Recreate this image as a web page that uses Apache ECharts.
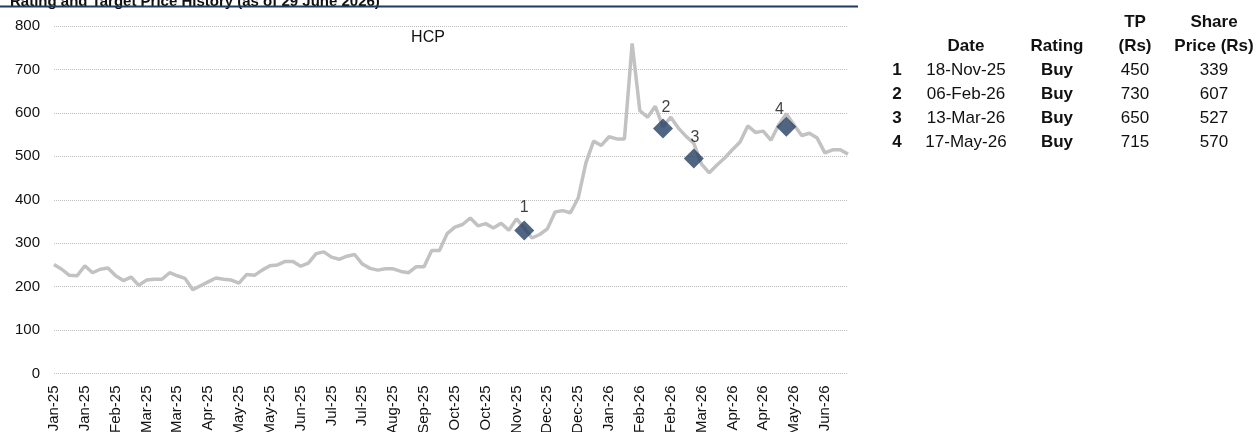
<!DOCTYPE html>
<html><head><meta charset="utf-8">
<script src="https://cdn.jsdelivr.net/npm/echarts@6/dist/echarts.min.js"></script>
<style>html,body{margin:0;padding:0;background:#fff}#c{width:1258px;height:432px}</style>
</head><body><div id="c"></div>
<script>
const tickLabels = ['Jan-25','Jan-25','Feb-25','Mar-25','Mar-25','Apr-25','May-25','May-25','Jun-25','Jul-25','Jul-25','Aug-25','Sep-25','Oct-25','Oct-25','Nov-25','Dec-25','Dec-25','Jan-26','Feb-26','Feb-26','Mar-26','Apr-26','Apr-26','May-26','Jun-26'];
const pointsPerTick = 4;
const prices = [
  251,240,226,225,248,232,240,243,225,214,
  222,203,215,217,217,232,225,219,193,202,
  211,220,217,215,208,228,226,238,248,250,
  258,258,247,254,276,280,268,263,270,274,
  252,242,238,241,241,235,232,246,246,283,
  283,322,337,343,358,340,345,335,346,330,
  356,335,312,320,333,372,375,370,404,485,
  535,525,545,540,540,760,605,590,615,568,
  590,565,546,530,482,462,480,496,515,533,
  570,555,558,537,572,598,572,548,553,542,
  508,515,515,505
];
const seriesName = 'HCP';
const markerIdx = [61,79,83,95];
const markerVals = [329,564,495,568];
const markerNames = ['1','2','3','4'];
const titleText = 'Rating and Target Price History (as of 29 June 2026)';
const tableHeader1 = ['', '', '', 'TP', 'Share'];
const tableHeader2 = ['', 'Date', 'Rating', '(Rs)', 'Price (Rs)'];
const tableNo = ['1','2','3','4'];
const tableDates = ['18-Nov-25','06-Feb-26','13-Mar-26','17-May-26'];
const tableRatings = ['Buy','Buy','Buy','Buy'];
const tableTP = ['450','730','650','715'];
const tableShare = ['339','607','527','570'];

const FONT = '"Liberation Sans",Arial,sans-serif';
const categories = prices.map((v,i)=>tickLabels[Math.floor(i/pointsPerTick)]);

const colX = [897, 966, 1057, 1135, 1214];
const rowY = [22, 46, 70, 94, 118, 142];
const boldCols = [true, false, true, false, false];
const graphics = [];
function txt(s, x, y, bold, size, align){
  graphics.push({type:'text', style:{text:s, x:x, y:y, fill:'#111',
    font:(bold?'bold ':'')+size+'px '+FONT, align:align||'center', textAlign:align||'center',
    verticalAlign:'middle', textVerticalAlign:'middle'}});
}
tableHeader1.forEach((s,c)=>{ if(s) txt(s, colX[c], rowY[0], true, 17); });
tableHeader2.forEach((s,c)=>{ if(s) txt(s, colX[c], rowY[1], true, 17); });
tableNo.forEach((n,r)=>{
  const cells=[n, tableDates[r], tableRatings[r], tableTP[r], tableShare[r]];
  cells.forEach((s,c)=>txt(s, colX[c], rowY[2+r], boldCols[c], 17));
});
graphics.push({type:'text', style:{text:titleText, x:10, y:9, fill:'#111',
  font:'bold 15px '+FONT, align:'left', textAlign:'left', verticalAlign:'bottom', textVerticalAlign:'bottom'}});
graphics.push({type:'line', shape:{x1:0,y1:6.5,x2:858,y2:6.5}, style:{stroke:'#1f3a60', lineWidth:2}});
txt(seriesName, 428, 38, false, 16);

const labelOffsets = [[0,0],[3,2],[1,2],[-7,6]];
const chart = echarts.init(document.getElementById('c'), null, {renderer:'canvas'});
chart.setOption({
  animation:false,
  backgroundColor:'#fff',
  grid:{left:54, right:410, top:26, bottom:58.5, containLabel:false, outerBoundsMode:'none'},
  xAxis:{type:'category', data:categories, boundaryGap:false,
    axisLine:{show:false}, axisTick:{show:false},
    axisLabel:{interval:pointsPerTick-1, rotate:90, margin:12, color:'#111', fontSize:15, fontFamily:FONT},
    splitLine:{show:false}},
  yAxis:{type:'value', min:0, max:800, interval:100,
    axisLine:{show:false}, axisTick:{show:false},
    axisLabel:{margin:14, color:'#111', fontSize:15, fontFamily:FONT},
    splitLine:{show:true, lineStyle:{type:'dotted', color:'#bdbdbd', width:1}}},
  series:[
    {name:seriesName, type:'line', data:prices, symbol:'none', lineStyle:{color:'#c2c2c2', width:3.5}, z:2},
    {type:'scatter', data:markerIdx.map((ix,k)=>({value:[ix, markerVals[k]], name:markerNames[k],
        label:{offset:labelOffsets[k]}})),
      symbol:'diamond', symbolSize:20, itemStyle:{color:'#243f63'}, z:3,
      label:{show:true, position:'top', distance:5, formatter:p=>p.name, color:'#111', fontSize:16, fontFamily:FONT}}
  ],
  graphic:graphics
});
</script></body></html>
